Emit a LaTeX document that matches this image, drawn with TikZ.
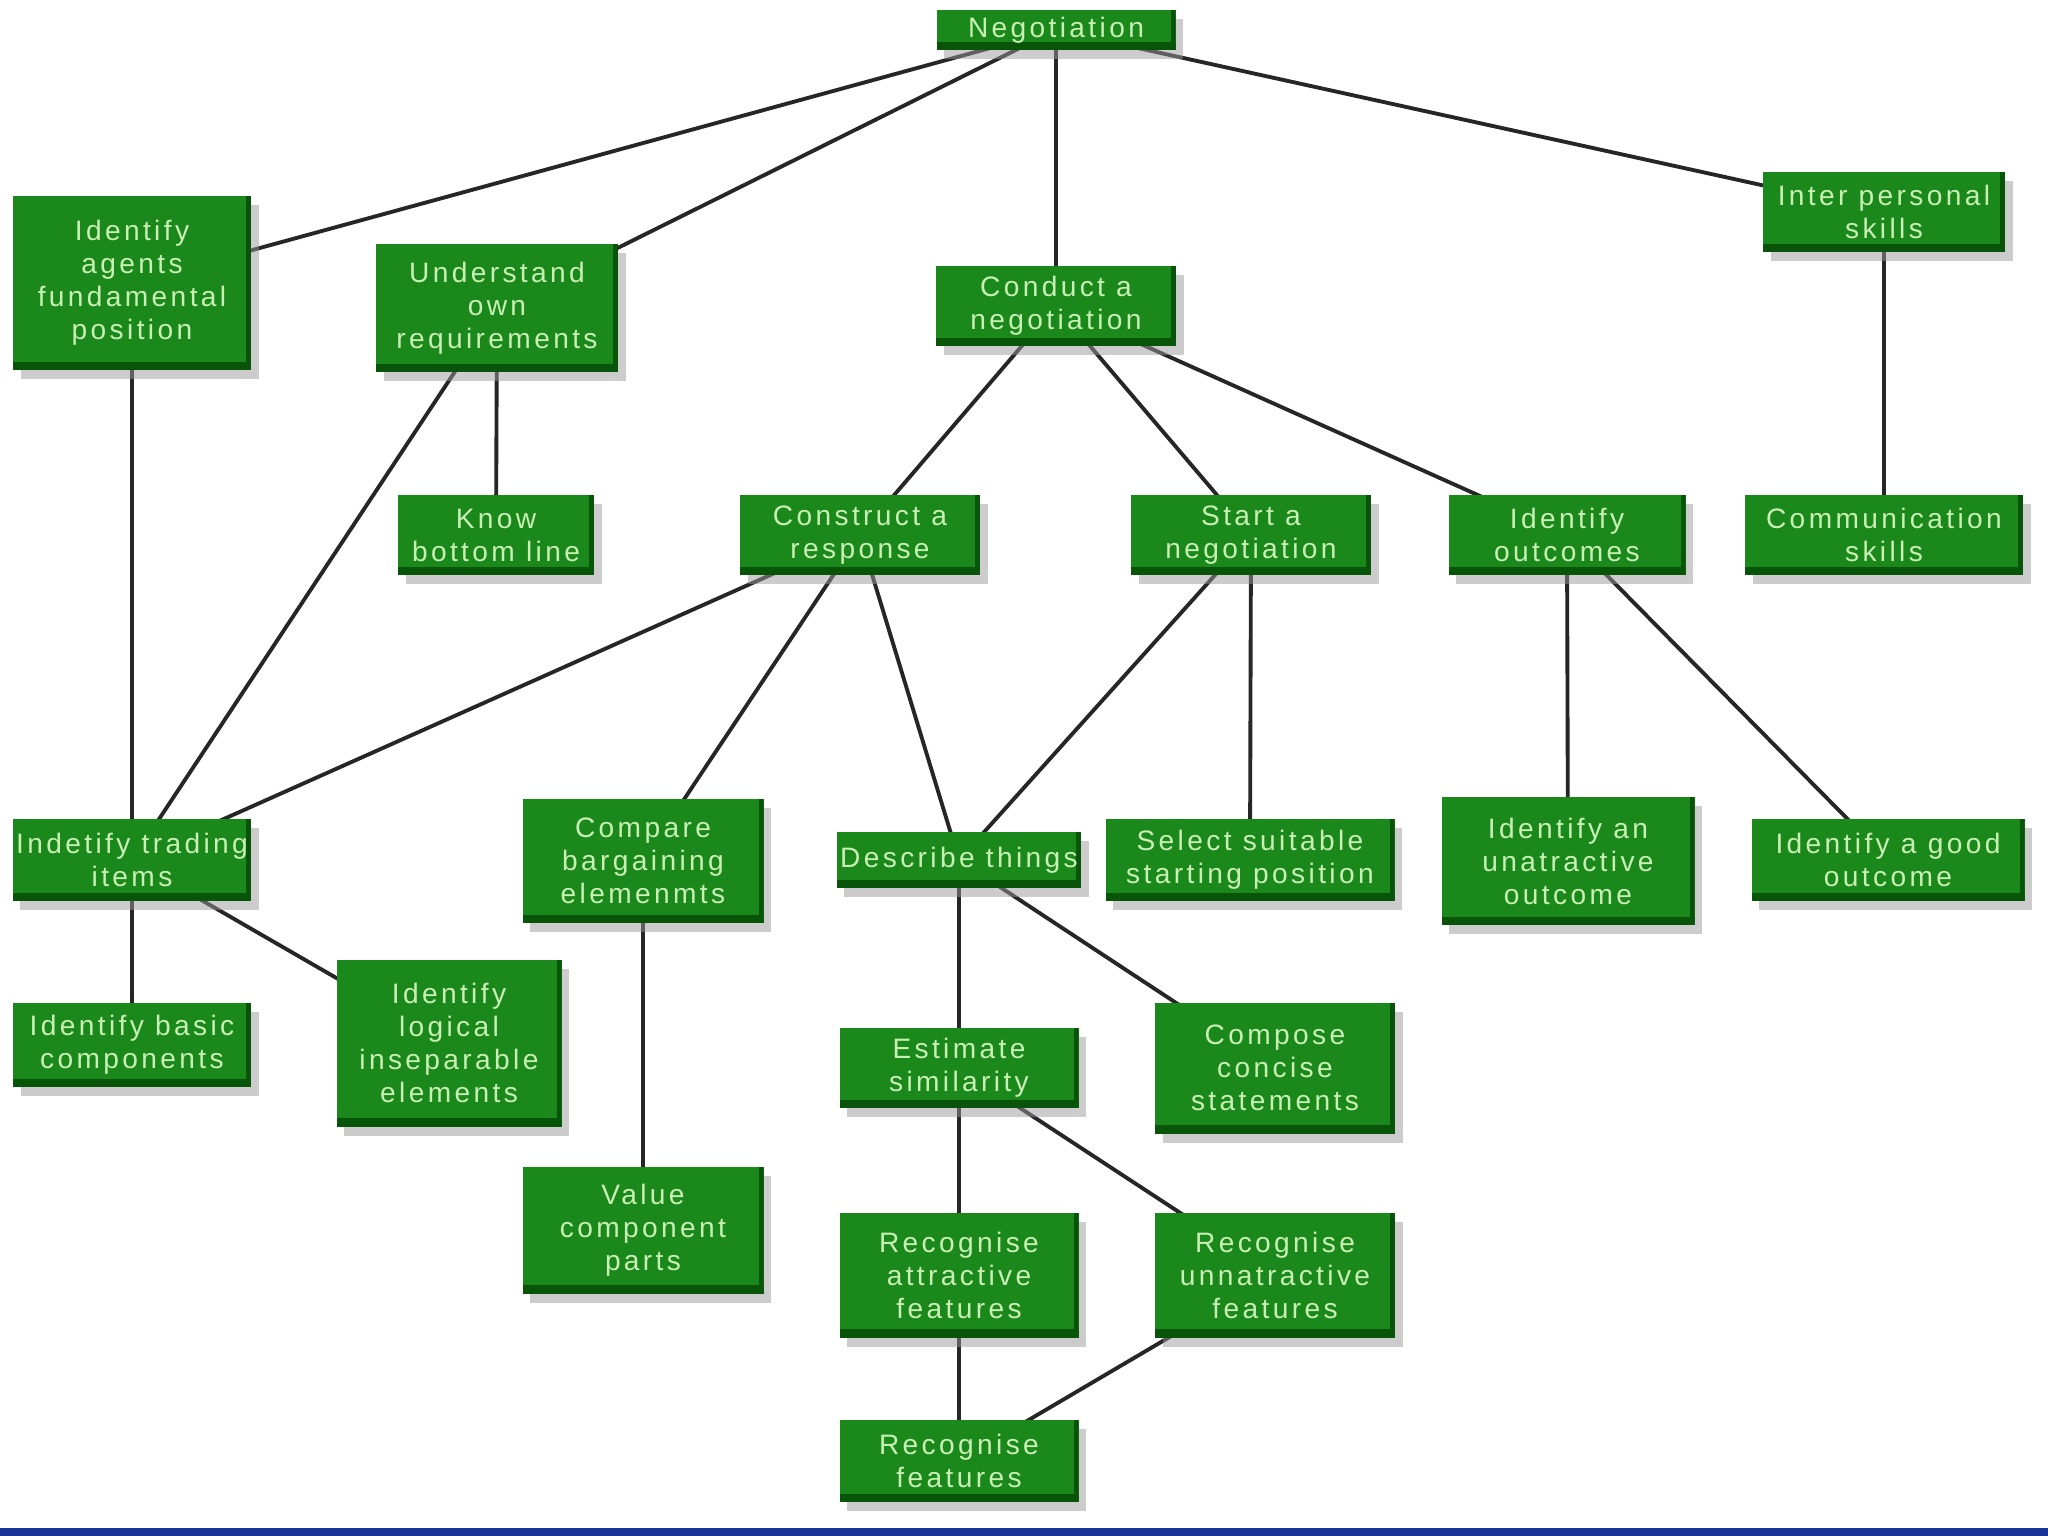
\documentclass[tikz,border=0pt]{standalone}
\usepackage{fontspec}
\newfontfamily\boxfont[LetterSpace=12]{Liberation Sans}
\usetikzlibrary{shadows,backgrounds}
\definecolor{boxgreen}{RGB}{26,136,26}
\definecolor{boxdark}{RGB}{8,84,8}
\definecolor{boxtext}{RGB}{200,240,180}
\definecolor{barblue}{RGB}{24,52,150}
\begin{document}
\begin{tikzpicture}[
  box/.style={fill=boxgreen,text=boxtext,align=center,inner sep=1pt,
    minimum width=2.4cm,minimum height=0.8cm,
    font=\boxfont\fontsize{8}{9.4}\selectfont,
    drop shadow={shadow xshift=2.2pt,shadow yshift=-2.6pt,fill=black!40},
    path picture={\fill[boxdark] (path picture bounding box.south west) rectangle ([yshift=2.3pt]path picture bounding box.south east);
      \fill[boxdark] ([xshift=-1.4pt]path picture bounding box.south east) rectangle (path picture bounding box.north east);}},
  link/.style={draw=black!85,line width=1.1pt}]
  \useasboundingbox (0,0) rectangle (20.48,-15.36);
  \fill[barblue] (0,-15.28) rectangle (20.48,-15.36);
  \node[box,minimum width=2.39cm,minimum height=0.4cm] (neg) at (10.56,-0.30) {Negotiation};
  \node[box,minimum width=2.38cm,minimum height=1.74cm] (agents) at (1.32,-2.83) {Identify\\agents\\fundamental\\position};
  \node[box,minimum width=2.42cm,minimum height=1.28cm] (underst) at (4.97,-3.08) {Understand\\own\\requirements};
  \node[box] (conduct) at (10.56,-3.06) {Conduct a\\negotiation};
  \node[box,minimum width=2.42cm] (inter) at (18.84,-2.12) {Inter personal\\skills};
  \node[box,minimum width=1.96cm] (know) at (4.96,-5.35) {Know\\bottom line};
  \node[box] (construct) at (8.60,-5.35) {Construct a\\response};
  \node[box] (start) at (12.51,-5.35) {Start a\\negotiation};
  \node[box,minimum width=2.37cm] (outcomes) at (15.67,-5.35) {Identify\\outcomes};
  \node[box,minimum width=2.78cm] (comm) at (18.84,-5.35) {Communication\\skills};
  \node[box,minimum width=2.38cm,minimum height=0.82cm] (trading) at (1.32,-8.60) {Indetify trading\\items};
  \node[box,minimum width=2.41cm,minimum height=1.24cm] (compare) at (6.43,-8.61) {Compare\\bargaining\\elemenmts};
  \node[box,minimum width=2.39cm,minimum height=0.56cm] (describe) at (9.59,-8.60) {Describe things};
  \node[box,minimum width=2.89cm,minimum height=0.82cm] (select) at (12.50,-8.60) {Select suitable\\starting position};
  \node[box,minimum width=2.53cm,minimum height=1.28cm] (unattr) at (15.68,-8.61) {Identify an\\unatractive\\outcome};
  \node[box,minimum width=2.73cm,minimum height=0.82cm] (good) at (18.88,-8.60) {Identify a good\\outcome};
  \node[box,minimum width=2.38cm,minimum height=0.84cm] (basic) at (1.32,-10.45) {Identify basic\\components};
  \node[box,minimum width=2.25cm,minimum height=1.67cm] (logical) at (4.49,-10.43) {Identify\\logical\\inseparable\\elements};
  \node[box,minimum width=2.39cm] (estimate) at (9.59,-10.68) {Estimate\\similarity};
  \node[box,minimum height=1.31cm] (compose) at (12.75,-10.68) {Compose\\concise\\statements};
  \node[box,minimum width=2.41cm,minimum height=1.27cm] (value) at (6.43,-12.30) {Value\\component\\parts};
  \node[box,minimum width=2.39cm,minimum height=1.25cm] (attract) at (9.59,-12.75) {Recognise\\attractive\\features};
  \node[box,minimum height=1.25cm] (unnattr) at (12.75,-12.75) {Recognise\\unnatractive\\features};
  \node[box,minimum width=2.39cm,minimum height=0.82cm] (features) at (9.59,-14.61) {Recognise\\features};
  \begin{scope}[on background layer]
    \foreach \a/\b in {neg/agents,neg/underst,neg/conduct,neg/inter,inter/comm,underst/know,underst/trading,
      agents/trading,conduct/construct,conduct/start,conduct/outcomes,construct/trading,construct/compare,
      construct/describe,start/describe,start/select,outcomes/unattr,outcomes/good,trading/basic,trading/logical,
      compare/value,describe/estimate,describe/compose,estimate/attract,estimate/unnattr,attract/features,unnattr/features}
      \draw[link] (\a.center) -- (\b.center);
  \end{scope}
\end{tikzpicture}
\end{document}
